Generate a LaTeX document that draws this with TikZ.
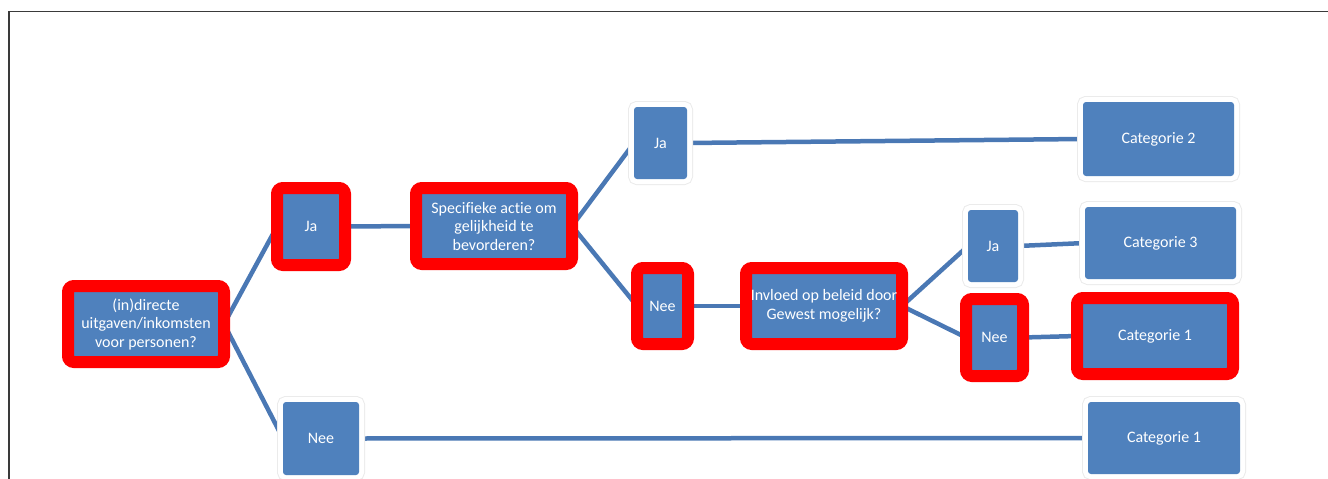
\documentclass[tikz,border=0pt]{standalone}
\usepackage{fontspec}
\setmainfont{Carlito}[Ligatures=NoCommon]
\usetikzlibrary{backgrounds}
\definecolor{boxblue}{HTML}{4F81BD}
\definecolor{linkblue}{HTML}{4A78B4}
\definecolor{hlred}{HTML}{FF0000}
\definecolor{framegray}{HTML}{3A3A3A}
\begin{document}
\begin{tikzpicture}[x=1pt,y=-1pt,
  base/.style={fill=boxblue, text=white, font=\fontsize{16}{18.5}\selectfont, align=center, inner sep=0pt, outer sep=0pt},
  redbox/.style={base, draw=hlred, line width=12pt, rounded corners=6pt},
  plainbox/.style={base, rounded corners=3pt, preaction={draw=black!8, line width=12pt}, preaction={draw=white, line width=10pt}},
  link/.style={draw=linkblue, line width=4.5pt}]
\useasboundingbox (0,0) rectangle (1328,479);
\draw[framegray, line width=1.2pt] (9,479) -- (9,11.5) -- (1328,11.5);

\node[redbox, minimum width=156pt, minimum height=76pt] (root) at (146,324) {(in)directe\\uitgaven/inkomsten\\voor personen?};
\node[redbox, minimum width=68pt, minimum height=77pt] (ja1) at (311,226.5) {Ja};
\node[redbox, minimum width=156pt, minimum height=76pt] (spec) at (494,226) {Specifieke actie om\\gelijkheid te\\bevorderen?};
\node[plainbox, minimum width=53pt, minimum height=72pt] (ja2) at (660.5,143) {Ja};
\node[redbox, minimum width=51pt, minimum height=76pt] (nee2) at (662.5,306) {Nee};
\node[redbox, minimum width=156pt, minimum height=76pt] (inv) at (824,306) {Invloed op beleid door\\Gewest mogelijk?};
\node[plainbox, minimum width=50pt, minimum height=72pt] (ja3) at (993,246) {Ja};
\node[redbox, minimum width=57pt, minimum height=77pt] (nee3) at (994.5,337.5) {Nee};
\node[plainbox, minimum width=151pt, minimum height=74pt] (cat2) at (1158.5,139) {Categorie 2};
\node[plainbox, minimum width=151pt, minimum height=72pt] (cat3) at (1160.5,243) {Categorie 3};
\node[redbox, minimum width=156pt, minimum height=76pt] (cat1a) at (1155,336) {Categorie 1};
\node[plainbox, minimum width=76pt, minimum height=73pt] (neeb) at (321,438.5) {Nee};
\node[plainbox, minimum width=152pt, minimum height=72pt] (cat1b) at (1164,438) {Categorie 1};

\begin{scope}[on background layer]
\draw[link] (root.east) -- (ja1.west);
\draw[link] (root.east) -- (neeb.west);
\draw[link] (ja1.east) -- (spec.west);
\draw[link] (spec.east) -- (ja2.west);
\draw[link] (spec.east) -- (nee2.west);
\draw[link] (ja2.east) -- (cat2.west);
\draw[link] (nee2.east) -- (inv.west);
\draw[link] (inv.east) -- (ja3.west);
\draw[link] (inv.east) -- (nee3.west);
\draw[link] (ja3.east) -- (cat3.west);
\draw[link] (nee3.east) -- (cat1a.west);
\draw[link] (neeb.east) -- (cat1b.west);
\end{scope}
\end{tikzpicture}
\end{document}
